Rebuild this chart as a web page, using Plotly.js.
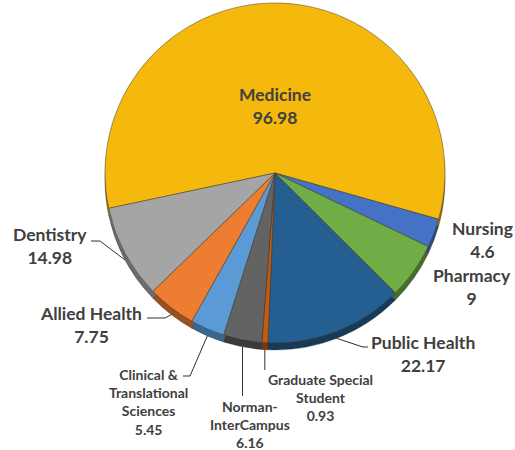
<!DOCTYPE html>
<html>
<head>
<meta charset="utf-8">
<script src="https://cdn.plot.ly/plotly-3.0.1.min.js"></script>
<style>html,body{margin:0;padding:0;background:#fff}#chart{width:515px;height:450px}</style>
</head>
<body>
<div id="chart"></div>
<script>
// ---- data ----
const labels = ['Medicine', 'Nursing', 'Pharmacy', 'Public Health', 'Graduate Special Student',
  'Norman-InterCampus', 'Clinical & Translational Sciences', 'Allied Health', 'Dentistry'];
const labelText = ['Medicine', 'Nursing', 'Pharmacy', 'Public Health', 'Graduate Special<br>Student',
  'Norman-<br>InterCampus', 'Clinical &amp;<br>Translational<br>Sciences', 'Allied Health', 'Dentistry'];
const values = [96.98, 4.6, 9, 22.17, 0.93, 6.16, 5.45, 7.75, 14.98];
const colors = ['#F5B80C', '#4472C4', '#70AD47', '#255E91', '#C55A11', '#636363', '#5B9BD5', '#ED7D31', '#A5A5A5'];
const rimColors = ['#9A7405', '#2A4A82', '#476F2C', '#163A5A', '#7A380A', '#3A3A3A', '#3A6790', '#99501F', '#6C6C6C'];

// ---- layout / style ----
const W = 515, H = 450;
const RIM = 7;
const ML = 105, MR = 70, MT = 3, MB = H - 3 - 340 - RIM;
const PW = W - ML - MR;            // 340
const PH = H - MT - MB;            // 347
const CX = ML + PW / 2, CY = MT + PW / 2, R = PW / 2;
const ROT = -102;
const txtColor = '#404040';
const font = 'Lato, "Open Sans", sans-serif';

function P(x, y) { return [(x - ML) / PW, (MT + PH - y) / PH]; }

const total = values.reduce((a, b) => a + b, 0);
let cum = 0;
const mids = values.map(v => { const a = ROT + (cum + v / 2) / total * 360; cum += v; return a * Math.PI / 180; });
function anchor(i) {
  return [CX + R * Math.sin(mids[i]), CY - R * Math.cos(mids[i]) + RIM];
}

// label placement (style): [x, y, xanchor, fontsize, leader elbow points]
const place = [
  {x: 275, y: 106, xa: 'center', fs: 17.5, lead: null},
  {x: 482, y: 240, xa: 'center', fs: 17.5, lead: null},
  {x: 472, y: 287, xa: 'center', fs: 17.5, lead: null},
  {x: 369, y: 354, xa: 'left', fs: 17.5, lead: [[363, 347], [368, 347]]},
  {x: 320, y: 397, xa: 'center', fs: 14, lead: 'vert370'},
  {x: 250, y: 424, xa: 'center', fs: 14, lead: 'vert396'},
  {x: 148, y: 402, xa: 'center', fs: 14, lead: [[190, 376], [183, 376]]},
  {x: 144, y: 325, xa: 'right', fs: 17.5, lead: [[165, 318], [147, 318]]},
  {x: 89, y: 246, xa: 'right', fs: 17.5, lead: [[100, 241], [91, 241]]}
];

const annotations = [];
const shapes = [];
values.forEach((v, i) => {
  const pl = place[i];
  const [px, py] = P(pl.x, pl.y);
  annotations.push({
    xref: 'paper', yref: 'paper', x: px, y: py, xanchor: pl.xa, yanchor: 'middle',
    text: labelText[i] + '<br>' + v, showarrow: false, align: 'center',
    font: {family: font, size: pl.fs, color: txtColor, weight: 'bold'}
  });
  if (pl.lead) {
    const a = anchor(i);
    let pts;
    if (typeof pl.lead === 'string') {
      const yEnd = parseFloat(pl.lead.slice(4));
      pts = [a, [a[0], yEnd]];
    } else {
      pts = [a].concat(pl.lead);
    }
    const path = pts.map((p, k) => { const q = P(p[0], p[1]); return (k ? 'L' : 'M') + q[0] + ',' + q[1]; }).join(' ');
    shapes.push({type: 'path', xref: 'paper', yref: 'paper', path: path, line: {color: '#303030', width: 1}});
  }
});

const base = {
  type: 'pie', labels: labels, values: values, sort: false, direction: 'clockwise',
  rotation: ROT, textinfo: 'none', hoverinfo: 'none', showlegend: false
};
const rim = Object.assign({}, base, {
  marker: {colors: rimColors, line: {color: 'rgba(40,40,40,0.6)', width: 0.6}},
  domain: {x: [0, 1], y: [0, PW / PH]}
});
const main = Object.assign({}, base, {
  marker: {colors: colors, line: {color: 'rgba(70,60,40,0.7)', width: 0.7}},
  domain: {x: [0, 1], y: [RIM / PH, 1]}
});

Plotly.newPlot('chart', [rim, main], {
  width: W, height: H,
  margin: {l: ML, r: MR, t: MT, b: MB, pad: 0},
  paper_bgcolor: '#ffffff', plot_bgcolor: '#ffffff',
  annotations: annotations, shapes: shapes
}, {displayModeBar: false, staticPlot: true});
</script>
</body>
</html>
